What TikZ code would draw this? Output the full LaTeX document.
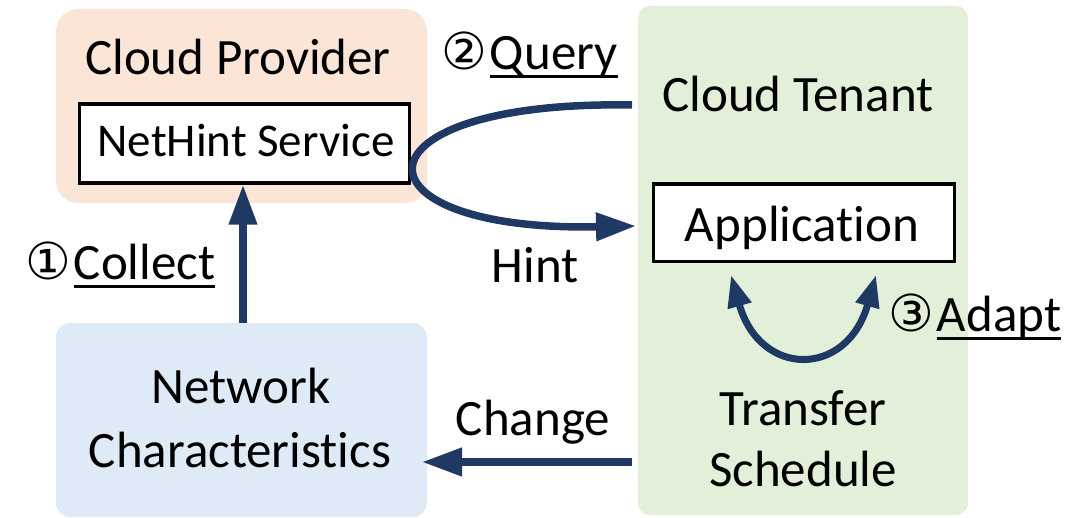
\documentclass[tikz,border=0pt]{standalone}
\usepackage{fontspec}
\setmainfont{Carlito}[Ligatures=NoCommon]
\newfontfamily\circfont{DejaVu Sans}
\usetikzlibrary{arrows.meta}

\definecolor{provfill}{HTML}{FBE5D6}
\definecolor{netfill}{HTML}{DEEBF7}
\definecolor{tenfill}{HTML}{E2F0D9}
\definecolor{navy}{HTML}{203864}

% text with a rule a fixed distance under the baseline
\newcommand\ulined[1]{\setbox0\hbox{#1}\rlap{\rule[-8pt]{\wd0}{2.5pt}}\box0}
\newcommand\bigtext{\fontsize{51}{61}\selectfont}
\newcommand\stepno[1]{{\circfont #1}\kern3pt}

\begin{document}
\begin{tikzpicture}[x=1pt,y=-1pt,
  region/.style={draw=none,inner sep=0pt},
  innerbox/.style={draw=black,line width=3.5pt,fill=white,inner sep=0pt},
  label/.style={inner sep=0pt,font=\bigtext},
  flow/.style={draw=navy,line width=7.5pt,-{Triangle[length=40pt,width=27pt]}},
  adapt/.style={draw=navy,line width=7pt,{Triangle[length=32pt,width=23pt]}-{Triangle[length=32pt,width=23pt]}}
]
\useasboundingbox (0,0) rectangle (1081,518);

% background regions
\fill[provfill,rounded corners=22pt] (56,9) rectangle (427,203);
\fill[netfill,rounded corners=14pt] (56,323) rectangle (427,517);
\fill[tenfill,rounded corners=12pt] (638,6) rectangle (968,515);
\node[region,minimum width=371pt,minimum height=194pt] (provider) at (241.5,106) {};
\node[region,minimum width=371pt,minimum height=194pt] (netchar) at (241.5,420) {};
\node[region,minimum width=330pt,minimum height=509pt] (tenant) at (803,260.5) {};

% inner boxes
\node[innerbox,minimum width=330pt,minimum height=79pt] (nethint) at (244.5,143.5) {};
\node[innerbox,minimum width=301pt,minimum height=77.5pt] (app) at (804,222.75) {};

% texts
\node[label,anchor=base] (provtxt) at (238,75) {Cloud Provider};
\node[label,anchor=base,font=\fontsize{47}{56}\selectfont] (nhtxt) at (246,157) {NetHint Service};
\node[label,anchor=base] (tentxt) at (798,112) {Cloud Tenant};
\node[label,anchor=base] (apptxt) at (802,242) {Application};
\node[label,anchor=base] (nettxt1) at (241,403) {Network};
\node[label,anchor=base] (nettxt2) at (240,467) {Characteristics};
\node[label,anchor=base] (trtxt1) at (803,425) {Transfer};
\node[label,anchor=base] (trtxt2) at (803,486) {Schedule};
\node[label,anchor=base] (hint) at (535,283) {Hint};
\node[label,anchor=base] (change) at (533,435) {Change};
\node[label,anchor=base west] (query) at (441,70) {\stepno{②}\ulined{Query}};
\node[label,anchor=base west] (collect) at (25,280) {\stepno{①}\ulined{Collect}};
\node[label,anchor=base west] (adaptlbl) at (888,332) {\stepno{③}\ulined{Adapt}};

% connectors
\coordinate (qstart) at (632,105);
\coordinate (htip) at (636,226);
\coordinate (cstart) at (632,462);
\coordinate (ctip) at (422,462);
\coordinate (aleft) at (731,275);
\coordinate (aright) at (876,275);

\draw[flow] (netchar.north -| 243,0) -- (nethint.south -| 243,0);
\draw[flow] (qstart) .. controls (345,100) and (345,232) .. (htip);
\draw[flow] (cstart) -- (ctip);
\draw[adapt] (aleft) .. controls (760,378) and (847,378) .. (aright);
\end{tikzpicture}
\end{document}
